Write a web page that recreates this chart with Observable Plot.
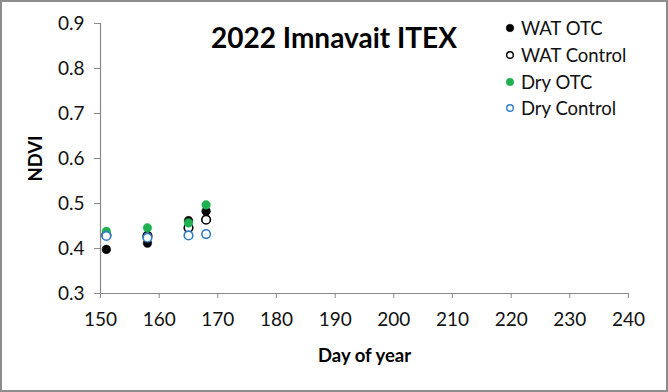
<!DOCTYPE html>
<html>
<head>
<meta charset="utf-8">
<script src="https://cdn.jsdelivr.net/npm/d3@7"></script>
<script src="https://cdn.jsdelivr.net/npm/@observablehq/plot@0.6"></script>
<style>
  html, body { margin: 0; padding: 0; background: #fff; }
  #wrap { position: relative; width: 668px; height: 392px; overflow: hidden; }
  #wrap svg { display: block; }
  #frame { position: absolute; left: 0; top: 0; width: 668px; height: 392px; box-sizing: border-box; border: 2px solid #8c8c8c; pointer-events: none; }
  #title { position: absolute; left: 0; width: 668px; top: 20px; text-align: center; font: bold 28px Lato, sans-serif; color: #000; }
  #legend { position: absolute; left: 505px; top: 15px; font: 18.5px Lato, sans-serif; color: #111; }
  #legend .row { display: flex; align-items: center; height: 26.7px; }
  #legend svg { margin-right: 6px; }
  g[aria-label="y-axis label"] text, g[aria-label="x-axis label"] text { font-weight: bold; font-size: 18.5px; fill: #000; }
</style>
</head>
<body>
<div id="wrap"></div>
<script>
const days = [151, 158, 165, 168];
const watOTC = [0.398, 0.412, 0.462, 0.483];
const watControl = [0.430, 0.428, 0.446, 0.464];
const dryOTC = [0.438, 0.446, 0.457, 0.497];
const dryControl = [0.428, 0.424, 0.429, 0.432];
const seriesNames = ["WAT OTC", "WAT Control", "Dry OTC", "Dry Control"];
const xTicks = [150, 160, 170, 180, 190, 200, 210, 220, 230, 240];
const yTicks = [0.3, 0.4, 0.5, 0.6, 0.7, 0.8, 0.9];

const styles = {
  "WAT OTC": {fill: "#000000", stroke: "#000000", open: false},
  "WAT Control": {fill: "#ffffff", stroke: "#000000", open: true},
  "Dry OTC": {fill: "#1fb150", stroke: "#1fb150", open: false},
  "Dry Control": {fill: "#ffffff", stroke: "#2e7dc4", open: true}
};
const valuesBy = {"WAT OTC": watOTC, "WAT Control": watControl, "Dry OTC": dryOTC, "Dry Control": dryControl};

const data = seriesNames.flatMap(s => days.map((d, i) => ({series: s, day: d, ndvi: valuesBy[s][i]})));

const axisColor = "#898989";
const plot = Plot.plot({
  width: 668,
  height: 392,
  marginLeft: 100,
  marginRight: 40,
  marginTop: 23,
  marginBottom: 99,
  style: {fontFamily: "Lato, sans-serif", fontSize: "19px", color: "#111", background: "#fff"},
  x: {domain: [150, 240]},
  y: {domain: [0.3, 0.9]},
  marks: [
    Plot.ruleX([150], {stroke: axisColor, strokeWidth: 1.2}),
    Plot.ruleY([0.3], {stroke: axisColor, strokeWidth: 1.2}),
    Plot.axisX({ticks: xTicks, tickSize: 5, tickPadding: 14, stroke: axisColor, label: "Day of year", labelAnchor: "center", labelArrow: "none", labelOffset: 68}),
    Plot.axisY({ticks: yTicks, tickSize: 6, tickPadding: 10, tickFormat: d3.format(".1f"), stroke: axisColor, label: "NDVI", labelAnchor: "center", labelArrow: "none", labelOffset: 72}),
    ...seriesNames.map(s => Plot.dot(data.filter(d => d.series === s), {
      x: "day", y: "ndvi", r: 4.3,
      fill: styles[s].fill, stroke: styles[s].stroke,
      strokeWidth: styles[s].open ? 1.6 : 0.5
    }))
  ]
});
const wrap = document.getElementById("wrap");
wrap.appendChild(plot);

const title = document.createElement("div");
title.id = "title";
title.textContent = "2022 Imnavait ITEX";
wrap.appendChild(title);

const legend = document.createElement("div");
legend.id = "legend";
for (const s of seriesNames) {
  const st = styles[s];
  const row = document.createElement("div");
  row.className = "row";
  row.innerHTML = `<svg width="10" height="10"><circle cx="5" cy="5" r="${st.open ? 3.3 : 3.8}" fill="${st.fill}" stroke="${st.stroke}" stroke-width="${st.open ? 1.4 : 0.5}"></circle></svg><span>${s}</span>`;
  legend.appendChild(row);
}
wrap.appendChild(legend);

const frame = document.createElement("div");
frame.id = "frame";
wrap.appendChild(frame);
</script>
</body>
</html>
